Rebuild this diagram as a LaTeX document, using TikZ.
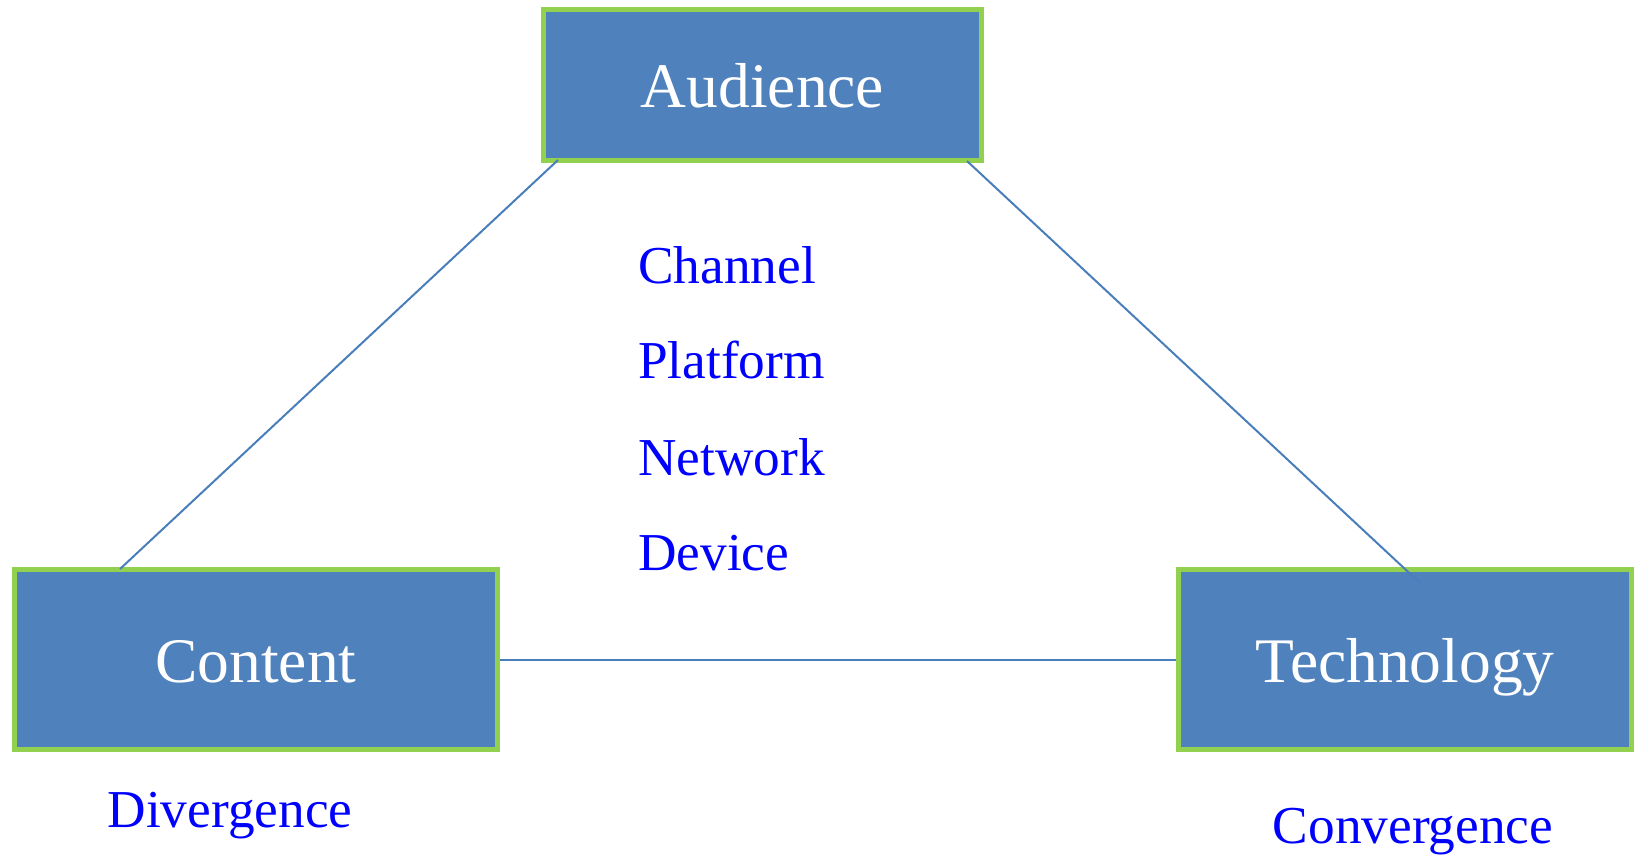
\documentclass[tikz,border=0pt]{standalone}
\usepackage{fontspec}
\setmainfont{Liberation Serif}
\definecolor{boxfill}{HTML}{4F81BD}
\definecolor{boxedge}{HTML}{92D050}
\definecolor{linkcol}{HTML}{4A7EBB}
\definecolor{labblue}{HTML}{0000FF}
\begin{document}
\begin{tikzpicture}[x=1pt,y=-1pt,
  mainbox/.style={draw=boxedge,line width=5.5pt,fill=boxfill,text=white,
    inner sep=0pt,text height=45pt,text depth=0pt,
    font=\fontsize{63.5}{68}\selectfont},
  link/.style={draw=linkcol,line width=2pt},
  lab/.style={text=labblue,inner sep=0pt,font=\fontsize{53.3}{58}\selectfont}]
\useasboundingbox (0,0) rectangle (1635,855);
\node[mainbox,minimum width=438pt,minimum height=151pt] (aud) at (762.5,85) {Audience};
\node[mainbox,minimum width=483pt,minimum height=180pt] (con) at (256,659.5) {Content};
\node[mainbox,minimum width=453pt,minimum height=180pt] (tech) at (1405,659.5) {Technology};
\coordinate (a1) at (558,160);
\coordinate (c1) at (120,569);
\coordinate (a2) at (967,161);
\coordinate (t1) at (1420,583);
\draw[link] (a1) -- (c1);
\draw[link] (a2) -- (t1);
\draw[link] (con.east) -- (tech.west);
\node[lab,anchor=base west] (ch) at (638,283) {Channel};
\node[lab,anchor=base west] (pl) at (638,378) {Platform};
\node[lab,anchor=base west] (nw) at (638,475) {Network};
\node[lab,anchor=base west] (dv) at (638,570) {Device};
\node[lab,anchor=base] (dg) at (230,827) {Divergence};
\node[lab,anchor=base] (cg) at (1413,843) {Convergence};
\end{tikzpicture}
\end{document}
